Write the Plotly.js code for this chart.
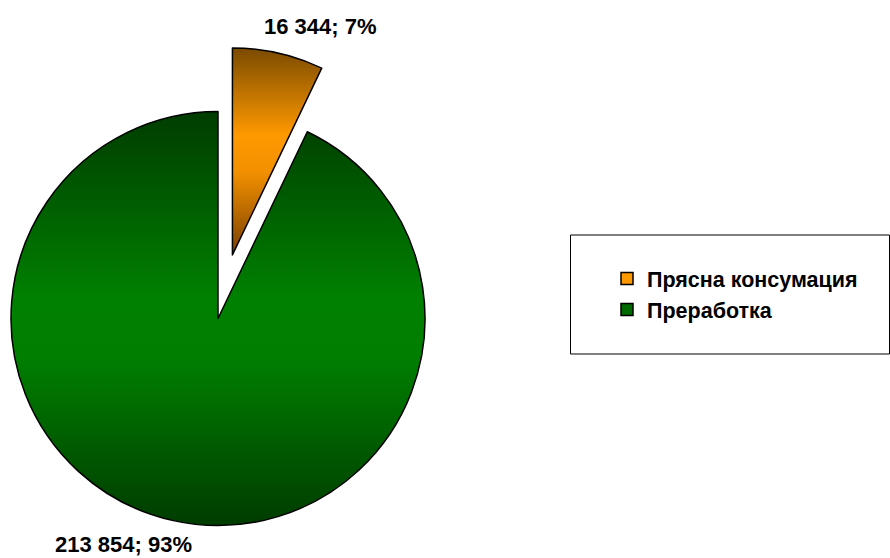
<!DOCTYPE html>
<html>
<head>
<meta charset="utf-8">
<script src="https://cdn.plot.ly/plotly-3.0.1.min.js"></script>
<style>
  html, body { margin:0; padding:0; width:890px; height:558px; overflow:hidden; background:#fff; }
  #chart { position:absolute; left:-60px; top:0; width:950px; height:600px; }
</style>
</head>
<body>
<div id="chart"></div>
<script>
// ---- data ----
const categories = ['Прясна консумация', 'Преработка'];
const values = [16344, 213854];
const pulls = [0.315, 0];
const sliceColors = ['#ff9900', '#006a00'];

// ---- helpers (page pixel -> paper fraction of the enlarged div) ----
const DIV_LEFT = -60, DIV_W = 950, DIV_H = 600;
const px = x => (x - DIV_LEFT) / DIV_W;
const py = y => (DIV_H - y) / DIV_H;

const total = values.reduce((a, b) => a + b, 0);
const fmt = n => String(n).replace(/\B(?=(\d{3})+(?!\d))/g, ' ');
const labelText = values.map(v => fmt(v) + '; ' + Math.round(v / total * 100) + '%');

const FONT = '"Liberation Sans", Arial, sans-serif';

// pie geometry: radius 207, centre at page (218, 318.5)
const R = 207, CX = 218, CY = 318.5;
const half = R * (1 + Math.max(...pulls));

const trace = {
  type: 'pie',
  labels: categories,
  values: values,
  pull: pulls,
  sort: false,
  direction: 'clockwise',
  rotation: 0,
  textinfo: 'none',
  hoverinfo: 'label+value+percent',
  marker: { colors: sliceColors, line: { color: '#000', width: 1.5 } },
  domain: {
    x: [px(CX - half), px(CX + half)],
    y: [py(CY + half), py(CY - half)]
  }
};

const layout = {
  width: DIV_W, height: DIV_H,
  margin: { l: 0, r: 0, t: 0, b: 0 },
  paper_bgcolor: '#fff',
  showlegend: true,
  legend: {
    x: px(607), xanchor: 'left',
    y: py(294), yanchor: 'middle',
    bgcolor: 'rgba(0,0,0,0)', borderwidth: 0,
    font: { family: FONT, size: 21.5, color: '#000', weight: 'bold' }
  },
  shapes: [{
    type: 'rect', xref: 'paper', yref: 'paper',
    x0: px(570.5), x1: px(889.5), y0: py(354), y1: py(235),
    line: { color: '#000', width: 1 }, fillcolor: 'rgba(0,0,0,0)'
  }],
  annotations: [
    { text: '<b>' + labelText[0] + '</b>', xref: 'paper', yref: 'paper',
      x: px(320), y: py(26), xanchor: 'center', yanchor: 'middle', showarrow: false,
      font: { family: FONT, size: 22, color: '#000' } },
    { text: '<b>' + labelText[1] + '</b>', xref: 'paper', yref: 'paper',
      x: px(123), y: py(544), xanchor: 'center', yanchor: 'middle', showarrow: false,
      font: { family: FONT, size: 22, color: '#000' } }
  ]
};

Plotly.newPlot('chart', [trace], layout, { displayModeBar: false, staticPlot: true }).then(gd => {
  // vertical gradients like the original
  const svgNS = 'http://www.w3.org/2000/svg';
  const defs = gd.querySelector('.main-svg defs') || gd.querySelector('.main-svg').appendChild(document.createElementNS(svgNS, 'defs'));
  const grads = [
    { id: 'gradOrange', stops: [[0, '#7a4a00'], [0.42, '#ff9900'], [0.6, '#f29000'], [1, '#7a3f00']] },
    { id: 'gradGreen', stops: [[0, '#003c00'], [0.45, '#008000'], [0.6, '#007e00'], [1, '#003c00']] }
  ];
  grads.forEach(g => {
    const lg = document.createElementNS(svgNS, 'linearGradient');
    lg.setAttribute('id', g.id);
    lg.setAttribute('x1', '0'); lg.setAttribute('y1', '0');
    lg.setAttribute('x2', '0'); lg.setAttribute('y2', '1');
    g.stops.forEach(([o, c]) => {
      const s = document.createElementNS(svgNS, 'stop');
      s.setAttribute('offset', o);
      s.setAttribute('stop-color', c);
      lg.appendChild(s);
    });
    defs.appendChild(lg);
  });
  const paths = gd.querySelectorAll('.pielayer .slice path.surface');
  paths.forEach((p, i) => { p.style.fill = 'url(#' + grads[i].id + ')'; });
});
</script>
</body>
</html>
